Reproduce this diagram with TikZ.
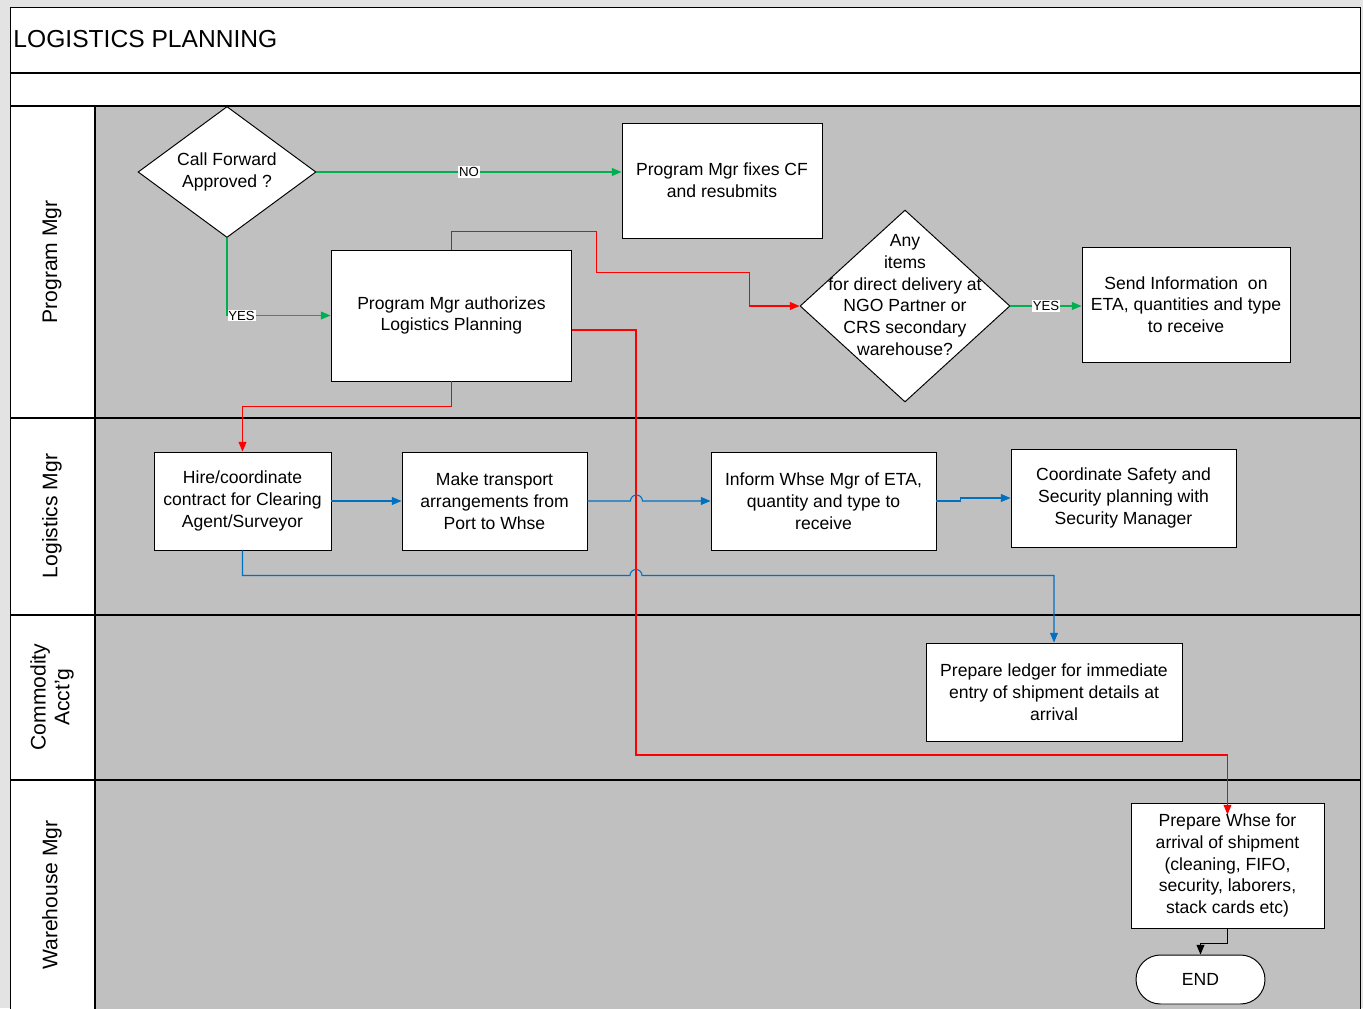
\documentclass[tikz,border=0pt]{standalone}
\usepackage{fontspec}
\setmainfont{Liberation Sans}
\usetikzlibrary{shapes.geometric,arrows.meta}
\definecolor{lanegray}{RGB}{192,192,192}
\definecolor{flowgreen}{RGB}{0,176,80}
\definecolor{flowblue}{RGB}{0,112,192}
\definecolor{flowred}{RGB}{255,0,0}
\begin{document}
\begin{tikzpicture}[x=0.02cm, y=-0.02cm, line width=0.55pt,
    task/.style = {draw, fill=white, align=center, inner sep=2pt,
        font=\fontsize{10}{12.4}\selectfont},
    decision/.style = {diamond, draw, fill=white, inner sep=0pt},
    words/.style = {align=center, inner sep=0pt, font=\fontsize{10}{12.4}\selectfont},
    lanename/.style = {rotate=90, align=center, inner sep=0pt, font=\fontsize{12}{13.5}\selectfont},
    flag/.style = {fill=white, inner sep=0.5pt, font=\fontsize{7.5}{8}\selectfont},
    flow/.style = {line width=0.6pt, -{Triangle[length=5.5pt,width=4.5pt]}},
    yesno/.style = {flow, draw=flowgreen},
    redflow/.style = {flow, draw=flowred},
    blueflow/.style = {flow, draw=flowblue}]
    \useasboundingbox (0,0) rectangle (1363,1008);
    \fill[gray!22] (0,0) rectangle (1363,1008);
    \draw[fill = white] (10,7) rectangle (1360,1012);
    \fill[lanegray] (95,106) rectangle (1360,1012);
    \begin{scope}[style = {line width = 0.6pt}]
        \draw (10,73) -- (1360,73);
        \draw (10,106) -- (1360,106);
        \draw (10,418) -- (1360,418);
        \draw (10,615) -- (1360,615);
        \draw (10,780) -- (1360,780);
        \draw (95,106) -- (95,1012);
    \end{scope}
    \node[anchor = west, inner sep = 0pt, font = \fontsize{14}{16}\selectfont] (title) at (13,39) {LOGISTICS PLANNING};
    \node[lanename] (laneprog) at (52,262) {Program Mgr};
    \node[lanename] (lanelog) at (52,516) {Logistics Mgr};
    \node[lanename] (lanecom) at (52,697) {Commodity\\Acct'g};
    \node[lanename] (lanewh) at (52,895) {Warehouse Mgr};
    % program mgr lane
    \node[decision, minimum width = 3.56cm, minimum height = 2.62cm] (callfwd) at (227,172) {};
    \node[words] at (callfwd.center) {Call Forward\\Approved ?};
    \node[task, minimum width = 4cm, minimum height = 2.3cm] (fixcf) at (722,180.5) {Program Mgr fixes CF\\and resubmits};
    \node[task, minimum width = 4.82cm, minimum height = 2.62cm] (auth) at (451.5,315.5) {Program Mgr authorizes\\Logistics Planning};
    \node[decision, minimum width = 4.2cm, minimum height = 3.84cm] (direct) at (905,306) {};
    \node[words] at (905,295) {Any\\items\\for direct delivery at\\NGO Partner or\\CRS secondary\\warehouse?};
    \node[task, minimum width = 4.16cm, minimum height = 2.3cm] (send) at (1186,304.5) {Send Information~ on\\ETA, quantities and type\\to receive};
    % logistics mgr lane
    \node[task, minimum width = 3.54cm, minimum height = 1.96cm] (hire) at (242.5,501) {Hire/coordinate\\contract for Clearing\\Agent/Surveyor};
    \node[task, minimum width = 3.7cm, minimum height = 1.96cm] (transport) at (494.5,501) {Make transport\\arrangements from\\Port to Whse};
    \node[task, minimum width = 4.5cm, minimum height = 1.96cm] (inform) at (823.5,501) {Inform Whse Mgr of ETA,\\quantity and type to\\receive};
    \node[task, minimum width = 4.5cm, minimum height = 1.96cm] (safety) at (1123.5,498) {Coordinate Safety and\\Security planning with\\Security Manager};
    % commodity acct'g and warehouse lanes
    \node[task, minimum width = 5.12cm, minimum height = 1.96cm] (ledger) at (1054,692) {Prepare ledger for immediate\\entry of shipment details at\\arrival};
    \node[task, minimum width = 3.86cm, minimum height = 2.5cm] (whse) at (1227.5,865.5) {Prepare Whse for\\arrival of shipment\\(cleaning, FIFO,\\security, laborers,\\stack cards etc)};
    \node[task, rounded corners = 0.49cm, minimum width = 2.58cm, minimum height = 0.98cm] (endnode) at (1200.5,979.5) {END};
    \coordinate (bend) at (636,755);
    % connectors
    \draw[yesno] (callfwd.east) -- node[flag] {NO} (callfwd.east -| fixcf.west);
    \draw[yesno] (callfwd.south) |- node[flag, pos = 0.5, anchor = west] {YES} (auth.west);
    \draw[yesno] (direct.east) -- node[flag] {YES} (direct.east -| send.west);
    \draw[redflow] (auth.north) |- ++(145,-18) |- ++(153,41) |- (direct.west);
    \draw[redflow] (auth.south) -- ++(0,25) -| (hire.north);
    \draw[redflow, shorten > = -0.24cm] (auth.east) ++(0,14.5) -| (bend) -| (whse.north);
    \draw[blueflow] (hire.east) -- (transport.west);
    \draw[blueflow] (transport.east) -- ++(43,0) arc[start angle = 180, end angle = 0, radius = 0.12cm] -- (inform.west);
    \draw[blueflow] (inform.east) -- ++(24,0) |- (safety.west);
    \draw[blueflow] (hire.south) -- ++(0,25) -- ++(387.5,0) arc[start angle = 180, end angle = 0, radius = 0.12cm] -| (ledger.north);
    \draw[flow] (whse.south) -- ++(0,15) -| (endnode.north);
\end{tikzpicture}
\end{document}
